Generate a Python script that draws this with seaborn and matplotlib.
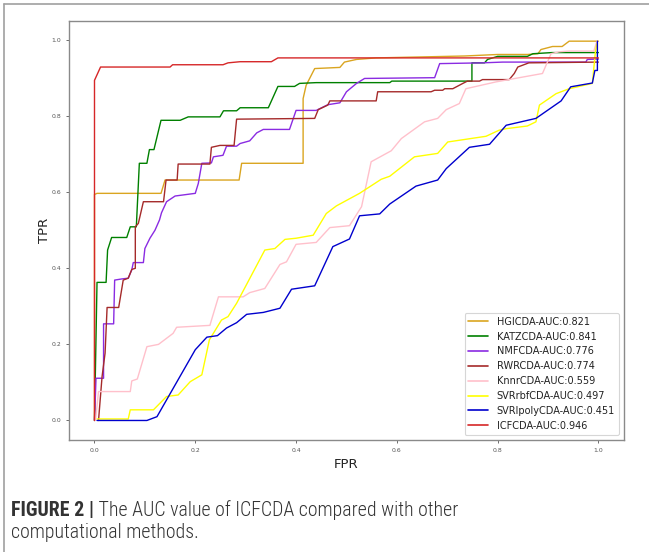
import numpy as np
import pandas as pd
import matplotlib
matplotlib.use("Agg")
import matplotlib.pyplot as plt
from matplotlib.lines import Line2D
from matplotlib import font_manager
from matplotlib.font_manager import FontProperties
import seaborn as sns

# ---------------- data ----------------
methods = ["HGICDA", "KATZCDA", "NMFCDA", "RWRCDA", "KnnrCDA",
           "SVRrbfCDA", "SVRlpolyCDA", "ICFCDA"]
auc_values = [0.821, 0.841, 0.776, 0.774, 0.559, 0.497, 0.451, 0.946]
colors = ["goldenrod", "green", "blueviolet", "brown", "pink",
          "yellow", "mediumblue", "#d62728"]

hgicda_fpr = [0, 0, 0.005, 0.132, 0.14, 0.287, 0.292, 0.414, 0.414, 0.42, 0.437,
              0.487, 0.496, 0.52, 0.559, 0.734, 0.8, 0.859, 0.88, 0.886, 0.909,
              0.928, 0.942, 1.0]
hgicda_tpr = [0, 0.594, 0.597, 0.597, 0.632, 0.632, 0.676, 0.676, 0.846, 0.881, 0.925,
              0.928, 0.942, 0.949, 0.953, 0.958, 0.962, 0.962, 0.964, 0.975, 0.983,
              0.983, 0.997, 0.997]

katz_fpr = [0, 0.005, 0.023, 0.026, 0.034, 0.064, 0.071, 0.083, 0.089, 0.104, 0.109,
            0.118, 0.132, 0.17, 0.186, 0.249, 0.256, 0.282, 0.289, 0.345, 0.364,
            0.397, 0.407, 0.44, 0.586, 0.59, 0.749, 0.749, 0.774, 0.78, 0.8, 0.859,
            0.87, 0.908, 0.993, 1.0]
katz_tpr = [0, 0.363, 0.363, 0.448, 0.481, 0.481, 0.509, 0.509, 0.676, 0.676, 0.712,
            0.712, 0.789, 0.789, 0.798, 0.798, 0.814, 0.814, 0.822, 0.822, 0.878,
            0.878, 0.886, 0.888, 0.888, 0.892, 0.892, 0.94, 0.94, 0.949, 0.957, 0.957,
            0.964, 0.967, 0.967, 0.967]

nmf_fpr = [0, 0.003, 0.018, 0.018, 0.038, 0.04, 0.054, 0.067, 0.074, 0.077, 0.097,
           0.1, 0.11, 0.12, 0.129, 0.133, 0.143, 0.16, 0.2, 0.206, 0.213, 0.232,
           0.236, 0.255, 0.262, 0.282, 0.289, 0.308, 0.322, 0.335, 0.387, 0.4, 0.44,
           0.463, 0.487, 0.5, 0.52, 0.536, 0.675, 0.685, 0.77, 0.81, 0.975, 0.978, 1.0]
nmf_tpr = [0, 0.111, 0.111, 0.254, 0.254, 0.369, 0.372, 0.374, 0.396, 0.415, 0.415,
           0.452, 0.479, 0.5, 0.527, 0.546, 0.575, 0.59, 0.597, 0.623, 0.676, 0.677,
           0.693, 0.697, 0.721, 0.721, 0.728, 0.735, 0.756, 0.765, 0.765, 0.815, 0.815,
           0.83, 0.835, 0.864, 0.886, 0.899, 0.901, 0.938, 0.94, 0.942, 0.942, 0.949, 0.95]

rwr_fpr = [0.008, 0.015, 0.021, 0.025, 0.048, 0.057, 0.067, 0.074, 0.081, 0.081,
           0.087, 0.097, 0.137, 0.142, 0.164, 0.166, 0.229, 0.232, 0.249, 0.277,
           0.282, 0.437, 0.444, 0.463, 0.467, 0.559, 0.562, 0.668, 0.675, 0.691,
           0.695, 0.711, 0.731, 0.74, 0.764, 0.77, 0.823, 0.833, 0.84, 0.862, 1.0]
rwr_tpr = [0, 0.115, 0.177, 0.297, 0.297, 0.369, 0.374, 0.397, 0.4, 0.509,
           0.518, 0.575, 0.575, 0.632, 0.632, 0.674, 0.674, 0.718, 0.723, 0.723,
           0.792, 0.794, 0.817, 0.829, 0.84, 0.84, 0.864, 0.864, 0.868, 0.868,
           0.872, 0.872, 0.886, 0.892, 0.892, 0.896, 0.896, 0.912, 0.929, 0.94, 0.942]

knnr_fpr = [0.002, 0.008, 0.071, 0.074, 0.085, 0.104, 0.127, 0.156, 0.163, 0.229,
            0.246, 0.295, 0.308, 0.338, 0.368, 0.381, 0.4, 0.44, 0.467, 0.506, 0.53,
            0.549, 0.589, 0.609, 0.632, 0.655, 0.681, 0.698, 0.724, 0.737, 0.797,
            0.889, 0.906, 0.922, 0.942, 0.991, 0.997]
knnr_tpr = [0, 0.076, 0.076, 0.104, 0.109, 0.194, 0.2, 0.229, 0.245, 0.25,
            0.325, 0.325, 0.336, 0.347, 0.41, 0.417, 0.463, 0.468, 0.507, 0.512, 0.562,
            0.68, 0.709, 0.741, 0.763, 0.785, 0.794, 0.817, 0.833, 0.872, 0.89,
            0.912, 0.964, 0.969, 0.971, 0.971, 0.997]

rbf_fpr = [0.005, 0.067, 0.071, 0.117, 0.143, 0.166, 0.19, 0.213, 0.228, 0.252,
           0.265, 0.282, 0.338, 0.358, 0.378, 0.4, 0.434, 0.46, 0.48, 0.526, 0.569,
           0.586, 0.635, 0.681, 0.701, 0.777, 0.803, 0.817, 0.859, 0.876, 0.883,
           0.916, 0.942, 0.988, 0.994, 0.997]
rbf_tpr = [0.004, 0.004, 0.028, 0.028, 0.063, 0.067, 0.102, 0.12, 0.212, 0.264,
           0.273, 0.308, 0.448, 0.452, 0.476, 0.479, 0.487, 0.544, 0.564, 0.597, 0.634,
           0.642, 0.693, 0.702, 0.732, 0.747, 0.763, 0.767, 0.774, 0.785, 0.829,
           0.859, 0.872, 0.886, 0.969, 0.99]

poly_fpr = [0.005, 0.104, 0.124, 0.2, 0.223, 0.244, 0.262, 0.282, 0.302, 0.335,
            0.368, 0.391, 0.437, 0.473, 0.506, 0.526, 0.566, 0.586, 0.638, 0.681,
            0.698, 0.744, 0.784, 0.817, 0.876, 0.926, 0.945, 0.988, 0.993, 0.998, 0.998]
poly_tpr = [0.0, 0.0, 0.01, 0.186, 0.219, 0.223, 0.243, 0.257, 0.279, 0.284,
            0.295, 0.345, 0.354, 0.457, 0.477, 0.538, 0.543, 0.569, 0.616, 0.632,
            0.662, 0.718, 0.726, 0.776, 0.794, 0.84, 0.877, 0.887, 0.92, 0.92, 0.997]

icf_fpr = [0, 0, 0.012, 0.15, 0.155, 0.255, 0.265, 0.289, 0.351, 0.364, 1.0]
icf_tpr = [0, 0.894, 0.929, 0.929, 0.935, 0.935, 0.94, 0.943, 0.943, 0.953, 0.953]

x_ticks = [0.0, 0.2, 0.4, 0.6, 0.8, 1.0]
y_ticks = [0.0, 0.2, 0.4, 0.6, 0.8, 1.0]
x_label = "FPR"
y_label = "TPR"
caption_bold = "FIGURE 2 |"
caption_line1 = " The AUC value of ICFCDA compared with other"
caption_line2 = "computational methods."

curves = [(hgicda_fpr, hgicda_tpr), (katz_fpr, katz_tpr), (nmf_fpr, nmf_tpr),
          (rwr_fpr, rwr_tpr), (knnr_fpr, knnr_tpr), (rbf_fpr, rbf_tpr),
          (poly_fpr, poly_tpr), (icf_fpr, icf_tpr)]

rows = []
for m, a, (fx, fy) in zip(methods, auc_values, curves):
    lab = f"{m}-AUC:{a:.3f}"
    for xx, yy in zip(fx, fy):
        rows.append({"FPR": xx, "TPR": yy, "label": lab})
df = pd.DataFrame(rows)
labels = [f"{m}-AUC:{a:.3f}" for m, a in zip(methods, auc_values)]
palette = dict(zip(labels, colors))

# ---------------- figure ----------------
sns.set_style("ticks")
plt.rcParams["font.family"] = ["DejaVu Sans"]

W, H = 649, 552
fig = plt.figure(figsize=(W / 100, H / 100), dpi=100)
fig.patch.set_facecolor("white")
ax = fig.add_axes([69.3 / W, 1 - 439.5 / H, (623.6 - 69.3) / W, (439.5 - 21) / H])

sns.lineplot(data=df, x="FPR", y="TPR", hue="label", hue_order=labels,
             palette=palette, sort=False, estimator=None,
             linewidth=1.0, ax=ax, legend=False)

ax.set_xlim(-0.05, 1.05)
ax.set_ylim(-0.05, 1.05)
ax.set_xticks(x_ticks)
ax.set_yticks(y_ticks)
ax.set_xticklabels([f"{t:.1f}" for t in x_ticks])
ax.set_yticklabels([f"{t:.1f}" for t in y_ticks])
ax.tick_params(labelsize=4.4, colors="#555555", length=2.5, width=0.6)
for s in ax.spines.values():
    s.set_visible(True)
    s.set_color("#8a8a8a")
    s.set_linewidth(1.0)
ax.set_xlabel(x_label, fontsize=9.5, color="#222222", labelpad=4)
ax.set_ylabel(y_label, fontsize=9.5, color="#222222", labelpad=0)
ax.grid(False)

handles = [Line2D([0], [0], color=c, lw=1.2) for c in colors]
leg = ax.legend(handles, labels, loc="lower right", fontsize=7,
                handlelength=2.0, handletextpad=0.9, labelspacing=0.5,
                borderpad=0.4, frameon=True, fancybox=True)
leg.get_frame().set_edgecolor("#cccccc")
leg.get_frame().set_linewidth(0.8)
for t in leg.get_texts():
    t.set_color("#222222")

# page border (top and left)
fig.add_artist(Line2D([3.5 / W, 1.0], [1 - 3.5 / H, 1 - 3.5 / H],
                      transform=fig.transFigure, color="#a0a0a0", lw=1.2))
fig.add_artist(Line2D([3.5 / W, 3.5 / W], [0.0, 1 - 3.5 / H],
                      transform=fig.transFigure, color="#a0a0a0", lw=1.2))

# caption font: prefer a condensed / narrow sans if one is installed
ttf = font_manager.fontManager.ttflist
def _wnum(w):
    if isinstance(w, (int, float)):
        return w
    return font_manager.weight_dict.get(w, 400)

def pick(cands_pred):
    for pred in cands_pred:
        reg = [f for f in ttf if pred(f) and f.style == "normal" and _wnum(f.weight) <= 450]
        bold = [f for f in ttf if pred(f) and f.style == "normal" and _wnum(f.weight) >= 600]
        if reg:
            reg.sort(key=lambda f: abs(_wnum(f.weight) - 330))
            bold.sort(key=lambda f: abs(_wnum(f.weight) - 700))
            return reg[0].fname, (bold[0].fname if bold else reg[0].fname)
    return None

preds = [
    lambda f: f.name == "Liberation Sans Narrow",
    lambda f: f.name in ("Roboto Condensed",) or ("Roboto" in f.name and "Condensed" in f.fname),
    lambda f: "Condensed" in f.name and "Sans" in f.name,
    lambda f: f.name == "DejaVu Sans" and f.stretch in ("condensed", "semi-condensed"),
    lambda f: f.name == "Open Sans" and f.stretch in ("condensed", "semi-condensed"),
]
sel = pick(preds)
if sel is not None:
    fp_reg = FontProperties(fname=sel[0])
    fp_bold = FontProperties(fname=sel[1])
    if sel[0] == sel[1]:
        fp_bold.set_weight("bold")
else:
    fp_reg = FontProperties(family="Liberation Sans")
    fp_bold = FontProperties(family="Liberation Sans", weight="bold")

renderer = fig.canvas.get_renderer()
target_w = 480.0
fs = 13.0
for _ in range(3):
    fp_reg.set_size(fs); fp_bold.set_size(fs)
    tb = fig.text(0, 0, caption_bold, fontproperties=fp_bold)
    tr = fig.text(0, 0, caption_line1, fontproperties=fp_reg)
    wtot = tb.get_window_extent(renderer).width + tr.get_window_extent(renderer).width
    tb.remove(); tr.remove()
    fs = min(fs * target_w / wtot, 14.3)
fp_reg.set_size(fs); fp_bold.set_size(fs)

x0 = 11 / W
y1 = 1 - 510 / H
y2 = 1 - 533 / H
tb = fig.text(x0, y1, caption_bold, fontproperties=fp_bold,
              color="#333333", va="center", ha="left")
wb = tb.get_window_extent(renderer).width
fig.text(x0 + wb / W, y1, caption_line1, fontproperties=fp_reg,
         color="#333333", va="center", ha="left")
fig.text(x0, y2, caption_line2, fontproperties=fp_reg,
         color="#333333", va="center", ha="left")

fig.savefig("out.png", dpi=100, facecolor="white")
